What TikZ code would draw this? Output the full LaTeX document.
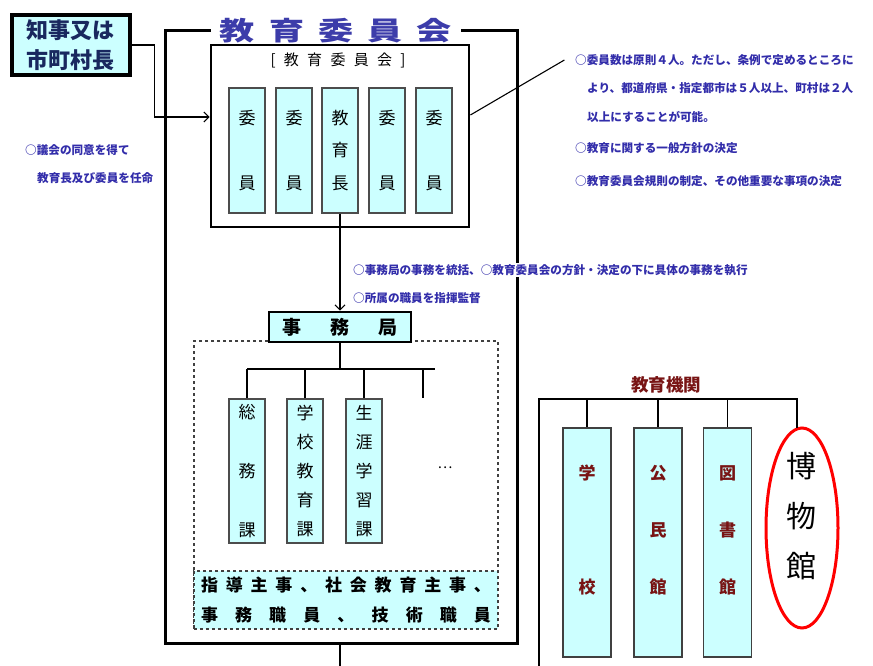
\documentclass[tikz,border=0pt]{standalone}
\usepackage{fontspec}
\setmainfont{Noto Sans CJK JP}
\usepackage{graphicx}
\usetikzlibrary{arrows.meta,positioning,shapes.geometric,calc}
\definecolor{boxcyan}{RGB}{204,255,255}
\definecolor{notesblue}{RGB}{50,45,170}
\definecolor{titleblue}{RGB}{60,60,170}
\definecolor{govnavy}{RGB}{25,40,95}
\definecolor{kikanred}{RGB}{120,20,20}

\begin{document}
\begin{tikzpicture}[x=1pt, y=-1pt, >={Straight Barb[length=5pt,width=10pt]},
  frame/.style={line width=3pt},
  link/.style={line width=1.1pt},
  govbox/.style={draw, line width=3.2pt, fill=boxcyan, minimum width=118pt, minimum height=60pt, inner sep=0pt, align=center, text=govnavy, font=\fontsize{22}{30}\selectfont\bfseries},
  boardbox/.style={draw, line width=2.8pt, minimum width=258pt, minimum height=182pt},
  member/.style={draw=black!70, line width=1.2pt, fill=boxcyan, minimum width=36pt, inner sep=0pt, align=center, font=\fontsize{17}{21}\selectfont},
  jimubox/.style={draw, line width=2.8pt, fill=boxcyan, minimum width=142pt, minimum height=30pt, inner sep=0pt, font=\fontsize{19}{21}\selectfont\bfseries},
  areabox/.style={draw=black!75, dashed, line width=1.1pt, minimum width=304pt, minimum height=288pt},
  staffbox/.style={draw=black!75, dashed, line width=1.1pt, fill=boxcyan, minimum width=304pt, minimum height=58pt, inner sep=0pt, align=center, font=\fontsize{17}{30}\selectfont\bfseries},
  instbox/.style={draw=black!75, line width=1.2pt, fill=boxcyan, minimum width=48pt, minimum height=229pt},
  insttext/.style={align=center, text=kikanred, font=\fontsize{17}{21}\selectfont\bfseries},
  note/.style={anchor=north west, inner sep=0pt, align=left, text=notesblue, font=\fontsize{11.6}{28.5}\selectfont\bfseries},
]
\useasboundingbox (0,0) rectangle (873,666);

% 知事又は市町村長
\node[govbox] (gov) at (71,45) {知事又は\\市町村長};

% 外枠と見出し
\node[inner xsep=9pt, inner ysep=0pt, text=titleblue, font=\fontsize{26}{26}\selectfont\bfseries] (title) at (336,31)
  {\scalebox{1.35}[1]{\makebox[172pt][s]{教 育 委 員 会}}};
\draw[frame] (title.west) -- (165,31) -- (165,643) coordinate (fbl) -- (517,643) -- (517,31) -- (title.east);

% 教育委員会
\node[boardbox] (board) at (340,136) {};
\node[font=\fontsize{15}{15}\selectfont] (boardlabel) at (338,60) {\makebox[135pt][s]{[ 教 育 委 員 会 ]}};
\foreach \n/\x/\txt in {m1/247/{委\\[44pt]員}, m2/294/{委\\[44pt]員}, m3/340/{教\\[11.5pt]育\\[11.5pt]長},
                        m4/387/{委\\[44pt]員}, m5/434/{委\\[44pt]員}}
  \node[member, minimum height=125pt] (\n) at (\x,150.5) {\txt};
\draw[link, ->] (gov.east) -- ++(23,0) |- ([yshift=19pt]board.west);
\draw[link] ([yshift=21pt]board.east) -- ++(94,-55);

% 説明文
\node[note] (leftnote) at (25,144) {○議会の同意を得て\\\hspace*{12pt}教育長及び委員を任命};
\node[note] (boardnote) at (575,54) {○委員数は原則４人。ただし、条例で定めるところに\\
  \hspace*{12pt}より、都道府県・指定都市は５人以上、町村は２人\\
  \hspace*{12pt}以上にすることが可能。\\[3pt]
  ○教育に関する一般方針の決定\\[4pt]
  ○教育委員会規則の制定、その他重要な事項の決定};

% 事務局
\node[areabox] (area) at (346,485) {};
\node[jimubox] (jimu) at (340,327) {\makebox[116pt][s]{事 務 局}};
\draw[link, ->] (m3.south) -- (jimu.north);
\node[note, fill=white, inner sep=1pt] (jimunote1) at (352,263) {○事務局の事務を統括、○教育委員会の方針・決定の下に具体の事務を執行};
\node[note] (jimunote2) at (353,292) {○所属の職員を指揮監督};

\coordinate (bus) at (340,369);
\coordinate (busend) at (435,369);
\coordinate (more) at (423,398);
\draw[link] (jimu.south) -- (bus);
\foreach \n/\x/\txt in {s1/247/{総\\[38pt]務\\[38pt]課}, s2/305/{学\\[8pt]校\\[8pt]教\\[8pt]育\\[8pt]課},
                        s3/364/{生\\[8pt]涯\\[8pt]学\\[8pt]習\\[8pt]課}}
  \node[member, minimum height=144pt] (\n) at (\x,471) {\txt};
\draw[link] (s1.north |- bus) -- (busend);
\foreach \n in {s1,s2,s3}
  \draw[link] (\n.north |- bus) -- (\n.north);
\draw[link] (more |- bus) -- (more);
\node[font=\fontsize{14}{14}\selectfont] (dots) at (445,468) {…};

\node[staffbox] (staff) at (346,600) {\makebox[290pt][s]{指 導 主 事 、 社 会 教 育 主 事 、}\\
  \makebox[290pt][s]{事 務 職 員 、 技 術 職 員}};

\coordinate (down) at (340,666);
\draw[link] (fbl -| jimu.south) -- (down);

% 教育機関
\node[text=kikanred, font=\fontsize{17.5}{18}\selectfont\bfseries] (kikan) at (666,385) {教育機関};
\coordinate (kbus) at (539,399);
\coordinate (kdown) at (539,666);
\node[instbox] (i1) at (587,542.5) {};
\node[instbox] (i2) at (658,542.5) {};
\node[instbox] (i3) at (727.5,542.5) {};
\node[insttext] (i1text) at ([yshift=12.5pt]i1.center) {学\\[93pt]校};
\node[insttext] (i2text) at ([yshift=12.5pt]i2.center) {公\\[36pt]民\\[36pt]館};
\node[insttext] (i3text) at ([yshift=12.5pt]i3.center) {図\\[36pt]書\\[36pt]館};
\node[draw=red, line width=3pt, ellipse, minimum width=72pt, minimum height=200pt, inner sep=0pt] (museum) at (802,528) {};
\node[font=\fontsize{30}{34}\selectfont, align=center] (museumtext) at (801,516) {博\\[16pt]物\\[16pt]館};
\coordinate (mtop) at (797,428);
\draw[link] (kdown) -- (kbus) -- (kbus -| mtop) -- (mtop);
\foreach \n in {i1,i2,i3}
  \draw[link] (kbus -| \n.north) -- (\n.north);
\end{tikzpicture}
\end{document}
